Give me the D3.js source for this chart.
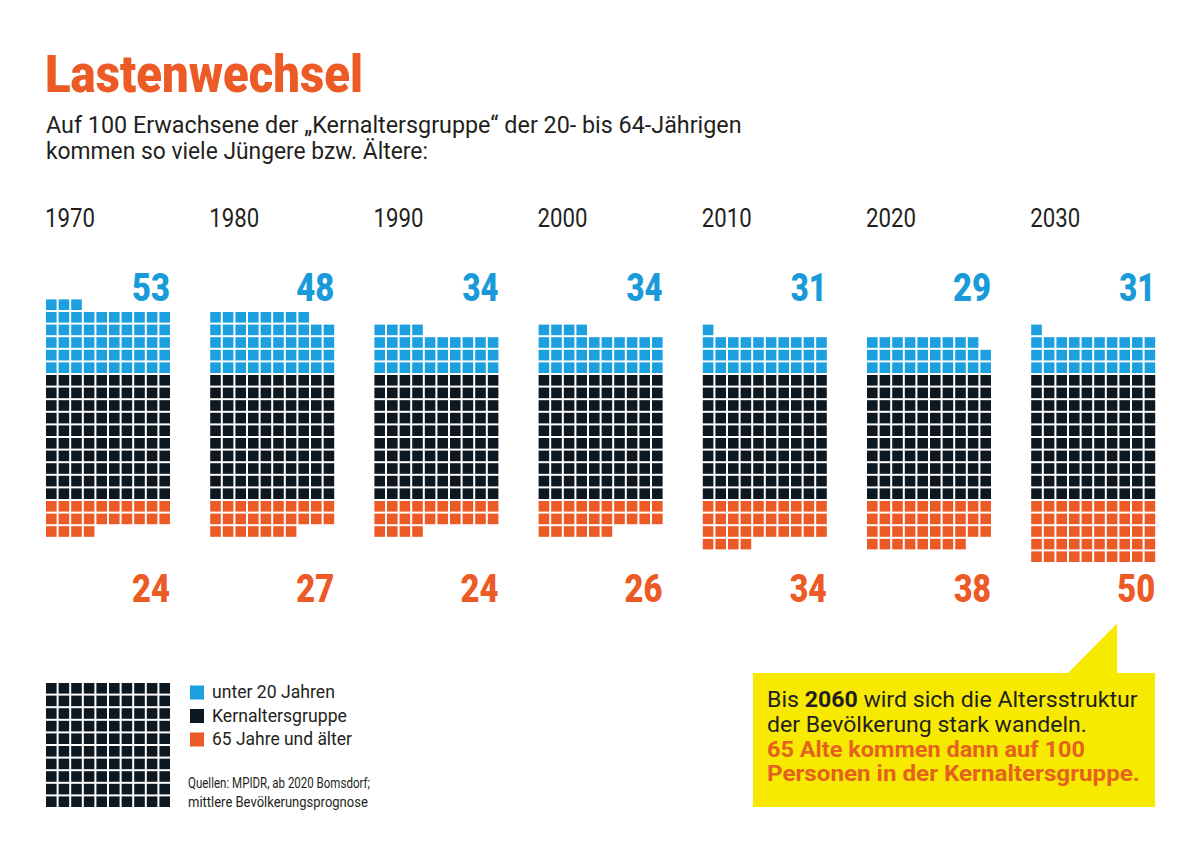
<!DOCTYPE html>
<html><head><meta charset="utf-8">
<script src="https://cdn.jsdelivr.net/npm/d3@7"></script>
<style>body{margin:0;background:#fff}svg{display:block}</style>
</head><body><svg id="c" width="1200" height="848"></svg>
<script>
// ---------- data ----------
const years = [1970, 1980, 1990, 2000, 2010, 2020, 2030];
const under20 = [53, 48, 34, 34, 31, 29, 31];
const coreGroup = [100, 100, 100, 100, 100, 100, 100];
const over65 = [24, 27, 24, 26, 34, 38, 50];
const legendLabels = ["unter 20 Jahren", "Kernaltersgruppe", "65 Jahre und älter"];
const titleText = "Lastenwechsel";
const subtitleLines = ["Auf 100 Erwachsene der „Kernaltersgruppe“ der 20- bis 64-Jährigen",
                       "kommen so viele Jüngere bzw. Ältere:"];
const sourceLines = ["Quellen: MPIDR, ab 2020 Bomsdorf;", "mittlere Bevölkerungsprognose"];
const calloutLine1 = ["Bis ", "2060", " wird sich die Altersstruktur"];
const calloutLines = ["der Bevölkerung stark wandeln.", "65 Alte kommen dann auf 100", "Personen in der Kernaltersgruppe."];

// ---------- style ----------
const C = {blue: "#1ca0df", blueText: "#1a9bd9", dark: "#0d1821", orange: "#ec5a25", text: "#231f20",
           yellow: "#f7ea00", calloutOrange: "#e4611e"};
const FONT = "Roboto, 'Open Sans', sans-serif";

const svg = d3.select("#c");

// fit text horizontally to a target width (simulates condensed face)
function place(sel, x, y, w, anchor) {
  sel.each(function () {
    const t = d3.select(this);
    t.attr("x", 0).attr("y", 0).attr("text-anchor", anchor || "start");
    const cw = this.getComputedTextLength();
    const k = w ? w / cw : 1;
    t.attr("transform", `translate(${x},${y}) scale(${k},1)`);
  });
  return sel;
}

// title
place(svg.append("text").text(titleText).attr("font-family", FONT).attr("font-weight", 900)
  .attr("font-size", 52).attr("fill", C.orange), 45, 91.5, 318);
// subtitle
place(svg.append("text").text(subtitleLines[0]).attr("font-family", FONT).attr("font-size", 23)
  .attr("fill", C.text), 46, 133, 696);
place(svg.append("text").text(subtitleLines[1]).attr("font-family", FONT).attr("font-size", 23)
  .attr("fill", C.text), 46, 159, 382);

// ---------- scales ----------
const pitch = 12.6, gap = 2;
const waffleW = 10 * pitch - gap;
const x = d3.scaleBand().domain(years).range([46, 46 + 7 * 164.2]).paddingInner(0).paddingOuter(0);
const col = d3.scaleLinear().domain([0, 10]).range([0, 10 * pitch]);
const row = d3.scaleLinear().domain([0, 10]).range([375, 375 + 10 * pitch]); // row 0 = first core row
const cell = pitch - gap;

function cellsFor(n, kind) {
  return d3.range(n).map(i => {
    const r = Math.floor(i / 10), c = i % 10;
    let rr;
    if (kind === "young") rr = -(r + 1);
    else if (kind === "core") rr = r;
    else rr = 10 + r;
    return {r: rr, c, kind};
  });
}
const color = {young: C.blue, core: C.dark, old: C.orange};

const groups = svg.selectAll("g.year").data(years.map((y, i) => ({
  year: y, young: under20[i], core: coreGroup[i], old: over65[i]})))
  .join("g").attr("class", "year").attr("transform", d => `translate(${x(d.year)},0)`);

groups.each(function (d) {
  const g = d3.select(this);
  const cells = [...cellsFor(d.young, "young"), ...cellsFor(d.core, "core"), ...cellsFor(d.old, "old")];
  g.selectAll("rect").data(cells).join("rect")
    .attr("x", c => col(c.c)).attr("y", c => row(c.r))
    .attr("width", cell).attr("height", cell).attr("fill", c => color[c.kind]);
  place(g.append("text").text(d.year).attr("font-family", FONT).attr("font-weight", 400)
    .attr("font-size", 26).attr("fill", C.text), -1, 227, 50);
  place(g.append("text").text(d.young).attr("font-family", FONT).attr("font-weight", 900)
    .attr("font-size", 38).attr("fill", C.blueText), waffleW, 301, String(d.young).startsWith("3") ? 36 : 38, "end");
  place(g.append("text").text(d.old).attr("font-family", FONT).attr("font-weight", 900)
    .attr("font-size", 38).attr("fill", C.orange), waffleW, 601.5, String(d.old).startsWith("3") ? 37 : 38, "end");
});

// ---------- legend ----------
const lg = svg.append("g").attr("transform", "translate(46,683)");
const legRow = d3.scaleLinear().domain([0, 10]).range([0, 10 * pitch]);
lg.selectAll("rect").data(cellsFor(100, "core")).join("rect")
  .attr("x", c => col(c.c)).attr("y", c => legRow(c.r)).attr("width", cell).attr("height", cell)
  .attr("fill", C.dark);
const legColors = [C.blue, C.dark, C.orange];
const legY = d3.scaleLinear().domain([0, 1]).range([698, 721.5]);
const legW = [123, 135, 140];
legendLabels.forEach((t, i) => {
  svg.append("rect").attr("x", 190).attr("y", legY(i) - 12.5).attr("width", 14).attr("height", 14)
    .attr("fill", legColors[i]);
  place(svg.append("text").text(t).attr("font-family", FONT).attr("font-size", 17.5)
    .attr("fill", C.text), 212, legY(i), legW[i]);
});
place(svg.append("text").text(sourceLines[0]).attr("font-family", FONT).attr("font-size", 14)
  .attr("fill", C.text), 188, 788, 182);
place(svg.append("text").text(sourceLines[1]).attr("font-family", FONT).attr("font-size", 14)
  .attr("fill", C.text), 188, 806.5, 180);

// ---------- callout ----------
svg.append("path").attr("d", "M753,673H1068L1117,623.5V673H1155V807H753Z").attr("fill", C.yellow);
const t1 = svg.append("text").attr("font-family", FONT).attr("font-size", 22.5).attr("fill", C.text);
calloutLine1.forEach((s, i) => t1.append("tspan").text(s).attr("font-weight", i === 1 ? 700 : 400));
(function () {
  t1.attr("x", 0).attr("y", 0);
  const w = t1.node().getBBox().width;
  t1.attr("transform", `translate(767,707) scale(${371 / w},1)`);
})();
place(svg.append("text").text(calloutLines[0]).attr("font-family", FONT).attr("font-size", 22.5)
  .attr("fill", C.text), 767, 731.5, 320);
place(svg.append("text").text(calloutLines[1]).attr("font-family", FONT).attr("font-size", 22.5)
  .attr("font-weight", 700).attr("fill", C.calloutOrange), 767, 756.5, 318);
place(svg.append("text").text(calloutLines[2]).attr("font-family", FONT).attr("font-size", 22.5)
  .attr("font-weight", 700).attr("fill", C.calloutOrange), 767, 781, 373);
</script></body></html>
